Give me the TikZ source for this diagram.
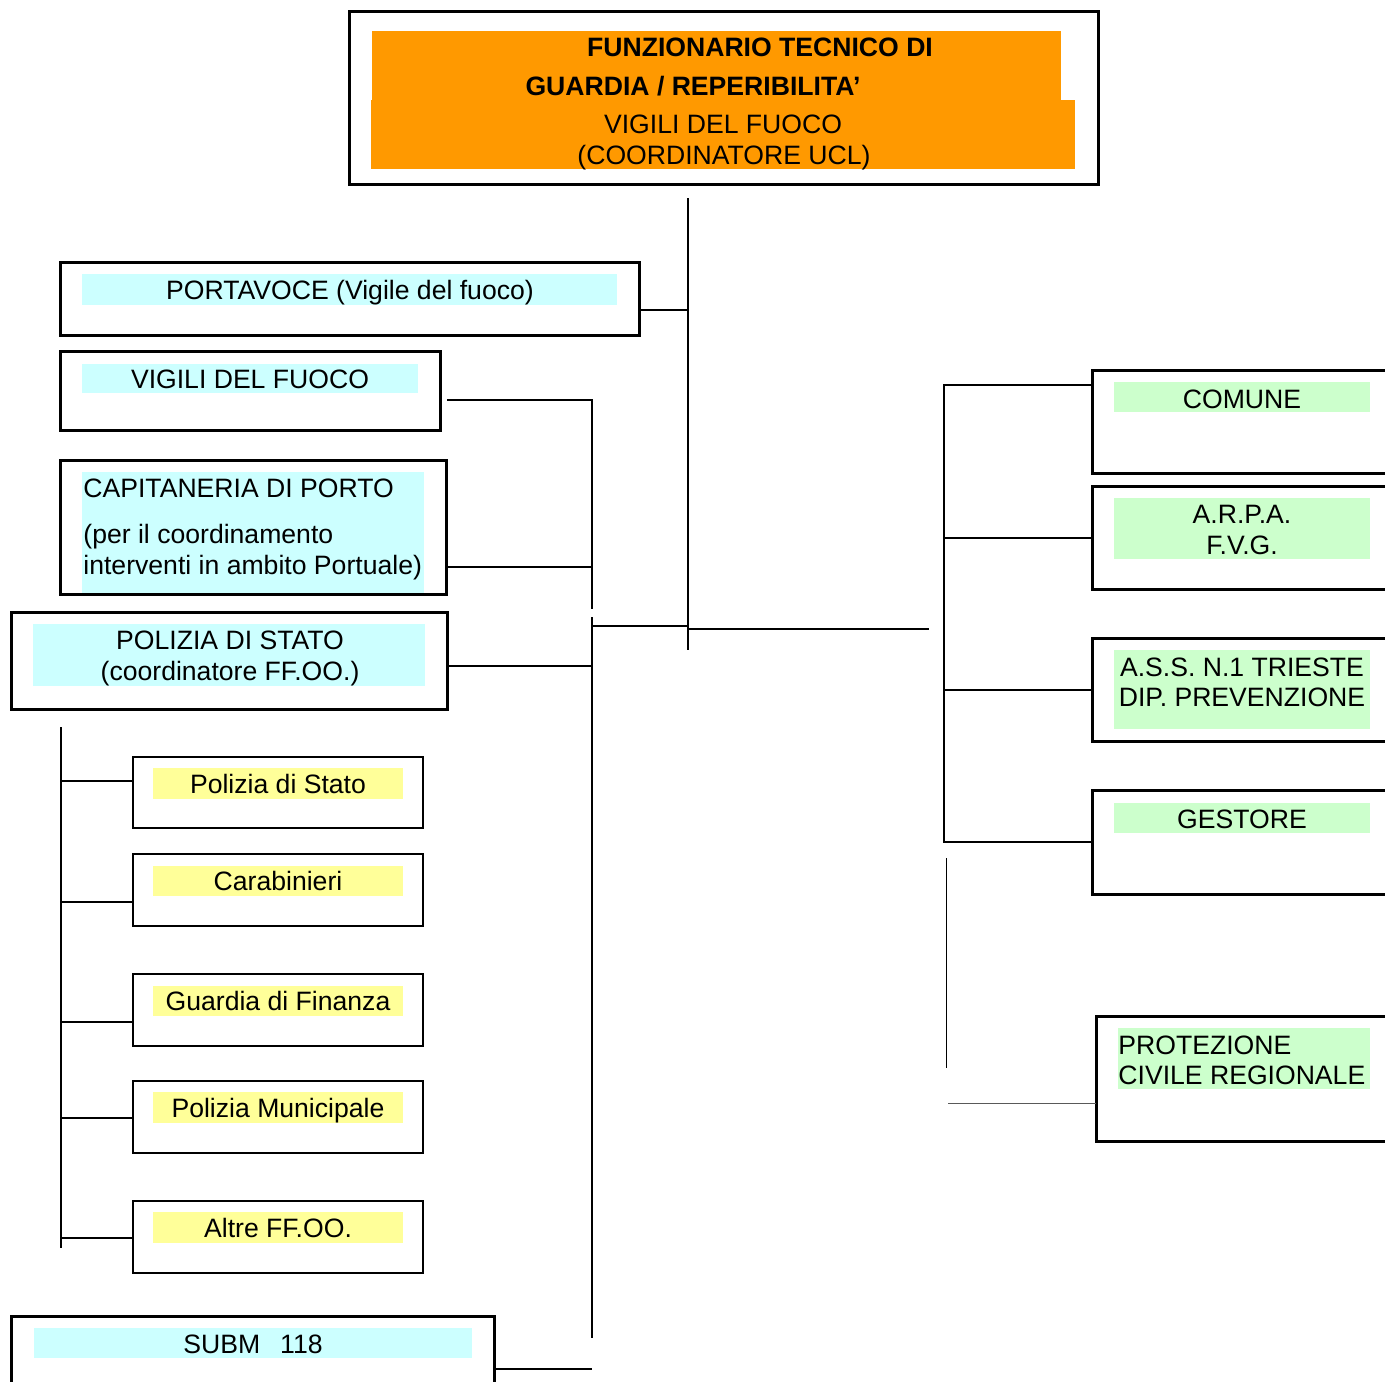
\documentclass[tikz,border=0pt]{standalone}
\usepackage{fontspec}
\setmainfont{Liberation Sans}
\definecolor{orangeF}{HTML}{FF9900}
\definecolor{cyanF}{HTML}{CCFFFF}
\definecolor{greenF}{HTML}{CCFFCC}
\definecolor{yellowF}{HTML}{FFFF99}
\tikzset{
  frame/.style={draw=black, line width=1.5pt, inner sep=0pt, outer sep=0pt},
  subframe/.style={draw=black, line width=1.1pt, inner sep=0pt, outer sep=0pt},
  band/.style={inner sep=0pt, outer sep=0pt, draw=none},
  txt/.style={inner sep=0pt, font=\fontsize{13.3}{15.5}\selectfont, anchor=base},
  ltxt/.style={txt, anchor=base west},
  btxt/.style={txt, font=\fontsize{13.3}{15.5}\selectfont\bfseries},
  conn/.style={line width=1pt, draw=black},
  thinconn/.style={line width=0.5pt, draw=black!65},
}
\newcommand\rectnode[6]{\node[#6, minimum width={(#4-#2)*0.5pt}, minimum height={(#5-#3)*0.5pt}] (#1) at ({(#2+#4)/2},{(#3+#5)/2}) {};}
\begin{document}
\begin{tikzpicture}[x=0.5pt, y=-0.5pt]
\path[use as bounding box] (0,0) rectangle (1385,1381);
\clip (0,0) rectangle (1385,1381);
% ---------- colour bands ----------
\rectnode{bTopA}{372}{31}{1061}{100}{band, fill=orangeF}
\rectnode{bTopB}{371}{100}{1075}{169}{band, fill=orangeF}
\rectnode{bPorta}{82}{274}{617}{305}{band, fill=cyanF}
\rectnode{bVig}{82}{364}{418}{393}{band, fill=cyanF}
\rectnode{bCap}{82}{472}{424}{594}{band, fill=cyanF}
\rectnode{bPol}{33}{624}{425}{686}{band, fill=cyanF}
\rectnode{bSubm}{34}{1328}{472}{1358}{band, fill=cyanF}
\rectnode{bY1}{153}{768}{403}{799}{band, fill=yellowF}
\rectnode{bY2}{153}{866}{403}{896}{band, fill=yellowF}
\rectnode{bY3}{153}{986}{403}{1016}{band, fill=yellowF}
\rectnode{bY4}{153}{1092}{403}{1123}{band, fill=yellowF}
\rectnode{bY5}{153}{1212}{403}{1243}{band, fill=yellowF}
\rectnode{bCom}{1114}{382}{1370}{412}{band, fill=greenF}
\rectnode{bArpa}{1114}{498}{1370}{559}{band, fill=greenF}
\rectnode{bAss}{1114}{650}{1370}{729}{band, fill=greenF}
\rectnode{bGes}{1114}{803}{1370}{833}{band, fill=greenF}
\rectnode{bProt}{1118}{1028}{1370}{1089}{band, fill=greenF}
% ---------- frames ----------
\rectnode{top}{349}{11}{1098}{184}{frame}
\rectnode{porta}{60}{262}{639}{335}{frame}
\rectnode{vig}{60}{351}{440}{430}{frame}
\rectnode{cap}{60}{460}{446}{594}{frame}
\rectnode{pol}{11}{612}{447}{709}{frame}
\rectnode{subm}{11}{1316}{494}{1400}{frame}
\rectnode{ps}{133}{757}{423}{828}{subframe}
\rectnode{cc}{133}{854}{423}{926}{subframe}
\rectnode{gf}{133}{974}{423}{1046}{subframe}
\rectnode{pm}{133}{1081}{423}{1153}{subframe}
\rectnode{af}{133}{1201}{423}{1273}{subframe}
\rectnode{com}{1092}{370}{1400}{473}{frame}
\rectnode{arpa}{1092}{486}{1400}{589}{frame}
\rectnode{ass}{1092}{638}{1400}{741}{frame}
\rectnode{ges}{1092}{790}{1400}{894}{frame}
\rectnode{prot}{1096}{1016}{1400}{1141}{frame}
% ---------- texts ----------
\node[btxt] (t1) at (760,56.5) {FUNZIONARIO TECNICO DI};
\node[btxt] (t2) at (693,95.5) {GUARDIA / REPERIBILITA’};
\node[txt] (t3) at (723,133.5) {VIGILI DEL FUOCO};
\node[txt] (t4) at (724,164.5) {(COORDINATORE UCL)};
\node[txt] (tPorta) at (350,299.5) {PORTAVOCE (Vigile del fuoco)};
\node[txt] (tVig) at (250,388.5) {VIGILI DEL FUOCO};
\node[ltxt] (tCap1) at (83,497.5) {CAPITANERIA DI PORTO};
\node[ltxt] (tCap2) at (83,543.5) {(per il coordinamento};
\node[ltxt] (tCap3) at (83,574.5) {interventi in ambito Portuale)};
\node[txt] (tPol1) at (230,649.5) {POLIZIA DI STATO};
\node[txt] (tPol2) at (230,680.5) {(coordinatore FF.OO.)};
\node[txt] (tY1) at (278,793.5) {Polizia di Stato};
\node[txt] (tY2) at (278,890.5) {Carabinieri};
\node[txt] (tY3) at (278,1010.5) {Guardia di Finanza};
\node[txt] (tY4) at (278,1117.5) {Polizia Municipale};
\node[txt] (tY5) at (278,1237.5) {Altre FF.OO.};
\node[txt] (tSubm) at (253,1353.5) {SUBM\hspace{0.75em}118};
\node[txt] (tCom) at (1242,408.5) {COMUNE};
\node[txt] (tArpa1) at (1242,523.5) {A.R.P.A.};
\node[txt] (tArpa2) at (1242,554.5) {F.V.G.};
\node[txt] (tAss1) at (1242,676.5) {A.S.S. N.1 TRIESTE};
\node[txt] (tAss2) at (1242,706.5) {DIP. PREVENZIONE};
\node[txt] (tGes) at (1242,828.5) {GESTORE};
\node[ltxt] (tProt1) at (1118,1054.5) {PROTEZIONE};
\node[ltxt] (tProt2) at (1118,1084.5) {CIVILE REGIONALE};
% ---------- connector coordinates ----------
\coordinate (mT) at (688,198);
\coordinate (mB) at (688,650);
\coordinate (jPorta) at (688,310);
\coordinate (jMidL) at (688,626);
\coordinate (jMidR) at (688,629);
\coordinate (rEnd) at (929,629);
\coordinate (lT) at (592,400);
\coordinate (lG1) at (592,609);
\coordinate (lG2) at (592,617);
\coordinate (lB) at (592,1338);
\coordinate (lMid) at (592,626);
\coordinate (lCap) at (592,567);
\coordinate (lPol) at (592,666);
\coordinate (lSubm) at (592,1369);
\coordinate (vStart) at (447,400);
\coordinate (rT) at (944,385);
\coordinate (rArpa) at (944,538);
\coordinate (rAss) at (944,690);
\coordinate (rB) at (944,842);
\coordinate (tvT) at (946,858);
\coordinate (tvB) at (946,1068);
\coordinate (thL) at (948,1103);
\coordinate (sT) at (61,727);
\coordinate (sB) at (61,1248);
\coordinate (s1) at (61,781);
\coordinate (s2) at (61,902);
\coordinate (s3) at (61,1022);
\coordinate (s4) at (61,1118);
\coordinate (s5) at (61,1238);
% ---------- connectors ----------
\draw[conn] (mT) -- (mB);
\draw[conn] (porta.east |- jPorta) -- (jPorta);
\draw[conn] (lMid) -- (jMidL);
\draw[conn] (jMidR) -- (rEnd);
\draw[conn] (vStart) -- (lT) -- (lG1);
\draw[conn] (lG2) -- (lB);
\draw[conn] (cap.east |- lCap) -- (lCap);
\draw[conn] (pol.east |- lPol) -- (lPol);
\draw[conn] (subm.east |- lSubm) -- (lSubm);
\draw[conn] (com.west |- rT) -- (rT) -- (rB) -- (ges.west |- rB);
\draw[conn] (rArpa) -- (arpa.west |- rArpa);
\draw[conn] (rAss) -- (ass.west |- rAss);
\draw[thinconn, draw=black] (tvT) -- (tvB);
\draw[thinconn] (thL) -- (prot.west |- thL);
\draw[conn] (sT) -- (sB);
\draw[conn] (s1) -- (ps.west |- s1);
\draw[conn] (s2) -- (cc.west |- s2);
\draw[conn] (s3) -- (gf.west |- s3);
\draw[conn] (s4) -- (pm.west |- s4);
\draw[conn] (s5) -- (af.west |- s5);
\end{tikzpicture}
\end{document}
